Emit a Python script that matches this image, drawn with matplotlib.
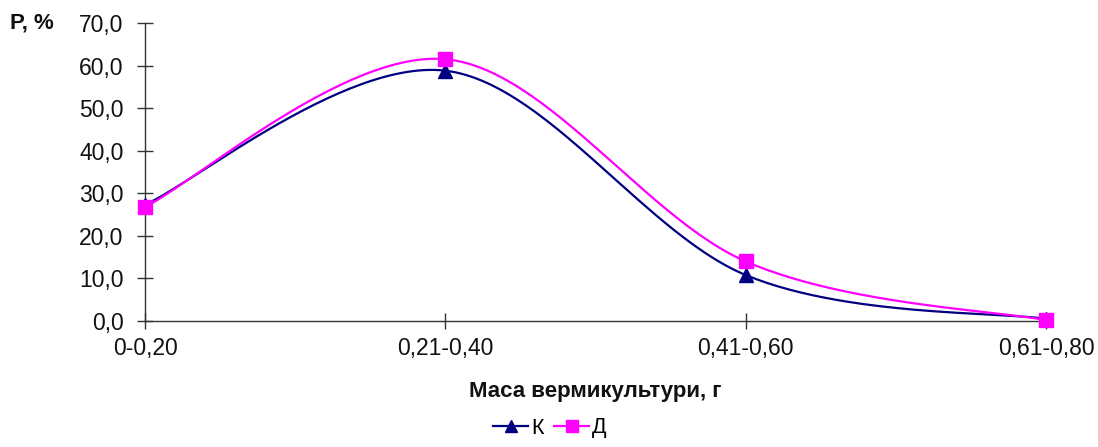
import numpy as np
import matplotlib
matplotlib.use("Agg")
import matplotlib.pyplot as plt
from matplotlib.ticker import FuncFormatter
from matplotlib.lines import Line2D

plt.rcParams['font.family'] = ['Liberation Sans', 'DejaVu Sans']

categories = ["0-0,20", "0,21-0,40", "0,41-0,60", "0,61-0,80"]
series_k = [27.3, 58.8, 10.8, 0.5]
series_d = [26.8, 61.5, 14.0, 0.2]
ylabel_text = "Р, %"
xlabel_text = "Маса вермикультури, г"


def excel_smooth(x, y, n=60):
    pts = np.column_stack([x, y]).astype(float)
    out = [pts[0]]
    for i in range(len(pts) - 1):
        p0 = pts[i - 1] if i > 0 else pts[i]
        p1 = pts[i]
        p2 = pts[i + 1]
        p3 = pts[i + 2] if i + 2 < len(pts) else pts[i + 1]
        c1 = p1 + (p2 - p0) / 6.0
        c2 = p2 - (p3 - p1) / 6.0
        t = np.linspace(0, 1, n)[1:, None]
        seg = ((1 - t) ** 3) * p1 + 3 * ((1 - t) ** 2) * t * c1 + 3 * (1 - t) * t ** 2 * c2 + t ** 3 * p2
        out.extend(seg)
    out = np.array(out)
    return out[:, 0], out[:, 1]


fig = plt.figure(figsize=(10.98, 4.47), dpi=100)
ax = fig.add_axes([145 / 1098, 1 - 321 / 447, (1046 - 145) / 1098, (321 - 23) / 447])

xpos = np.arange(len(categories))
navy = "#000080"
mag = "#FF00FF"

for vals, col, mk, ms in [(series_k, navy, "^", 10), (series_d, mag, "s", 10)]:
    sx, sy = excel_smooth(xpos, vals)
    ax.plot(sx, sy, color=col, lw=1.6, zorder=2, clip_on=False)
    ax.plot(xpos, vals, linestyle="none", marker=mk, color=col, markersize=ms, zorder=3, clip_on=False)

ax.set_xlim(0, 3)
ax.set_ylim(0, 70)
ax.set_yticks(np.arange(0, 71, 10))
ax.yaxis.set_major_formatter(FuncFormatter(lambda v, p: f"{v:.1f}".replace(".", ",")))
ax.set_xticks(xpos)
ax.set_xticklabels(categories)

for s in ["top", "right"]:
    ax.spines[s].set_visible(False)
for s in ["left", "bottom"]:
    ax.spines[s].set_color("#333333")
    ax.spines[s].set_linewidth(1.0)

ax.tick_params(axis="both", direction="inout", length=11, width=1.0, colors="#333333",
               labelcolor="#111111", labelsize=16.5)
ax.tick_params(axis="y", pad=10)
ax.tick_params(axis="x", pad=6)

fig.text(10 / 1098, 1 - 23 / 447, ylabel_text, fontsize=16, fontweight="bold",
         ha="left", va="center", color="#111111")
fig.text(595 / 1098, 1 - 392 / 447, xlabel_text, fontsize=16, fontweight="bold",
         ha="center", va="center", color="#111111")

handles = [Line2D([], [], color=navy, marker="^", markersize=8, lw=1.6),
           Line2D([], [], color=mag, marker="s", markersize=8, lw=1.6)]
fig.legend(handles, ["К", "Д"], loc="center", bbox_to_anchor=(550 / 1098, 1 - 428 / 447),
           ncol=2, frameon=False, fontsize=15.5, handlelength=1.6, handletextpad=0.15,
           columnspacing=0.5, borderpad=0)

fig.savefig("out.png", dpi=100)
